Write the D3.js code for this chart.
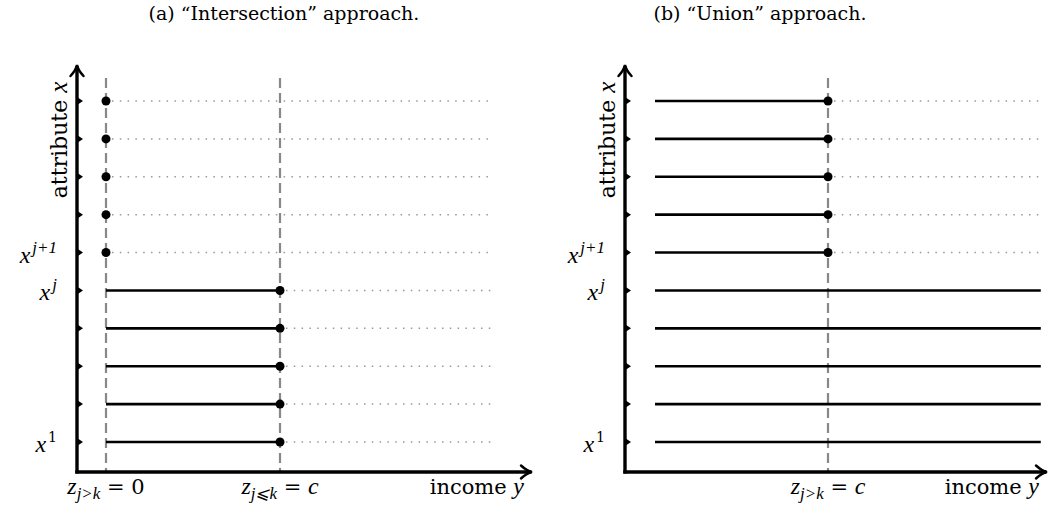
<!DOCTYPE html>
<html>
<head>
<meta charset="utf-8">
<script src="https://cdn.jsdelivr.net/npm/d3@7"></script>
<style>
  body { margin: 0; background: #fff; }
  text { font-family: "DejaVu Serif", serif; fill: #000; }
  .it { font-family: "Liberation Serif", serif; font-style: italic; }
</style>
</head>
<body>
<svg id="chart" width="1049" height="507"></svg>
<script>
// attribute levels x^1 .. x^10, j = 5
var levels = [1, 2, 3, 4, 5, 6, 7, 8, 9, 10];
var jLevel = 5;
// income values: 0, c (=1), top of the range
var incomeZero = 0;
var incomeC = 1;
var incomeMax = 2.23;
// y tick labels: [level, base, superscript]
var levelLabels = [[1, "x", "1"], [5, "x", "j"], [6, "x", "j+1"]];
var titles = ["(a) \u201cIntersection\u201d approach.", "(b) \u201cUnion\u201d approach."];

var svg = d3.select("#chart");

var y = d3.scaleLinear().domain([1, 10]).range([442, 101]);
var axisY = 472, axisTop = 65;

var panels = [
    { name: "intersection", axisX: 77, range: [106, 280], arrowEnd: 532, title: titles[0], titleX: 284,
      xLabels: [[incomeZero, "j>k", "0"], [incomeC, "j\u2a7dk", "c"]] },
    { name: "union", axisX: 625, range: [655, 828], arrowEnd: 1047, title: titles[1], titleX: 760,
      xLabels: [[incomeC, "j>k", "c"]] }
];

function arrowHead(g, x, yy, dir) {
    // LaTeX-ish "to" arrow tip
    var d = dir === "up"
        ? "M" + (x - 6.5) + "," + (yy + 11) + " Q" + (x - 1) + "," + (yy + 5) + " " + x + "," + yy +
          " Q" + (x + 1) + "," + (yy + 5) + " " + (x + 6.5) + "," + (yy + 11)
        : "M" + (x - 11) + "," + (yy - 6.5) + " Q" + (x - 5) + "," + (yy - 1) + " " + x + "," + yy +
          " Q" + (x - 5) + "," + (yy + 1) + " " + (x - 11) + "," + (yy + 6.5);
    g.append("path").attr("d", d).attr("fill", "none").attr("stroke", "#000").attr("stroke-width", 2.5)
        .attr("stroke-linecap", "round");
}

panels.forEach(function (p, pi) {
    var x = d3.scaleLinear().domain([incomeZero, incomeC]).range(p.range);
    var g = svg.append("g").attr("class", p.name);

    g.append("text").attr("x", p.titleX).attr("y", 20).attr("text-anchor", "middle")
        .style("font-size", "19px").text(p.title);

    // dotted guide lines
    g.selectAll(".dot-line").data(levels).enter().append("line")
        .attr("x1", function (d) { return pi === 0 ? x(d > jLevel ? incomeZero : incomeC) : x(incomeC); })
        .attr("x2", x(incomeMax))
        .attr("y1", y).attr("y2", y)
        .attr("stroke", "#999").attr("stroke-width", 1.5)
        .attr("stroke-dasharray", "1.5,6.3").attr("stroke-dashoffset", -6)
        .filter(function (d) { return pi === 1 && d <= jLevel; }).remove();

    // dashed verticals
    var vlines = pi === 0 ? [incomeZero, incomeC] : [incomeC];
    g.selectAll(".vline").data(vlines).enter().append("line")
        .attr("x1", x).attr("x2", x).attr("y1", 78).attr("y2", axisY)
        .attr("stroke", "#888").attr("stroke-width", 2.2).attr("stroke-dasharray", "10,5");

    // solid segments
    g.selectAll(".seg").data(levels.filter(function (d) {
        return pi === 0 ? d <= jLevel : true;
    })).enter().append("line")
        .attr("x1", x(incomeZero))
        .attr("x2", function (d) { return pi === 0 ? x(incomeC) : (d <= jLevel ? x(incomeMax) : x(incomeC)); })
        .attr("y1", y).attr("y2", y)
        .attr("stroke", "#000").attr("stroke-width", 2.6);

    // end points
    g.selectAll(".pt").data(levels.filter(function (d) { return pi === 0 || d > jLevel; }))
        .enter().append("circle")
        .attr("cx", function (d) { return pi === 0 && d > jLevel ? x(incomeZero) : x(incomeC); })
        .attr("cy", y).attr("r", 4.5).attr("fill", "#000");

    // axes
    g.append("line").attr("x1", p.axisX).attr("x2", p.axisX).attr("y1", axisY + 1.6).attr("y2", axisTop + 1)
        .attr("stroke", "#000").attr("stroke-width", 3.4);
    arrowHead(g, p.axisX, axisTop, "up");
    g.append("line").attr("x1", p.axisX - 1.7).attr("x2", p.arrowEnd - 1).attr("y1", axisY).attr("y2", axisY)
        .attr("stroke", "#000").attr("stroke-width", 3.4);
    arrowHead(g, p.arrowEnd, axisY, "right");

    // tick markers
    g.selectAll(".tick").data(levels).enter().append("path")
        .attr("d", function (d) {
            var yy = y(d);
            return "M" + p.axisX + "," + (yy - 4) + " L" + (p.axisX + 6) + "," + yy + " L" + p.axisX + "," + (yy + 4) + " Z";
        }).attr("fill", "#000");

    // level labels
    var ll = g.selectAll(".lvl").data(levelLabels).enter().append("text")
        .attr("x", p.axisX - 20).attr("y", function (d) { return y(d[0]) + 10; })
        .attr("text-anchor", "end").style("font-size", "24px");
    ll.append("tspan").attr("class", "it").text(function (d) { return d[1]; });
    ll.append("tspan").attr("dy", -10).attr("dx", 2)
        .attr("class", function (d) { return d[2] === "1" ? null : "it"; })
        .style("font-size", function (d) { return d[2] === "1" ? "14px" : "17px"; })
        .text(function (d) { return d[2]; });

    // y axis title
    var yt = g.append("text").attr("transform", "translate(" + (p.axisX - 10) + ",140) rotate(-90)")
        .attr("text-anchor", "middle").style("font-size", "22px");
    yt.append("tspan").text("attribute ");
    yt.append("tspan").attr("class", "it").style("font-size", "25px").text("x");

    // x labels
    var xl = g.selectAll(".xl").data(p.xLabels).enter().append("text")
        .attr("x", function (d) { return x(d[0]); }).attr("y", 494)
        .attr("text-anchor", "middle").style("font-size", "21px");
    xl.append("tspan").attr("class", "it").style("font-size", "24px").text("z");
    xl.append("tspan").attr("class", "it").attr("dy", 5).style("font-size", "17px").text(function (d) { return d[1]; });
    xl.append("tspan").attr("dy", -5).text(" = ");
    xl.append("tspan").attr("class", function (d) { return d[2] === "0" ? null : "it"; })
        .style("font-size", function (d) { return d[2] === "0" ? "21px" : "24px"; })
        .text(function (d) { return d[2]; });

    var inc = g.append("text").attr("x", p.arrowEnd - 8).attr("y", 494).attr("text-anchor", "end")
        .style("font-size", "21px");
    inc.append("tspan").text("income ");
    inc.append("tspan").attr("class", "it").style("font-size", "24px").text("y");
});
</script>
</body>
</html>
